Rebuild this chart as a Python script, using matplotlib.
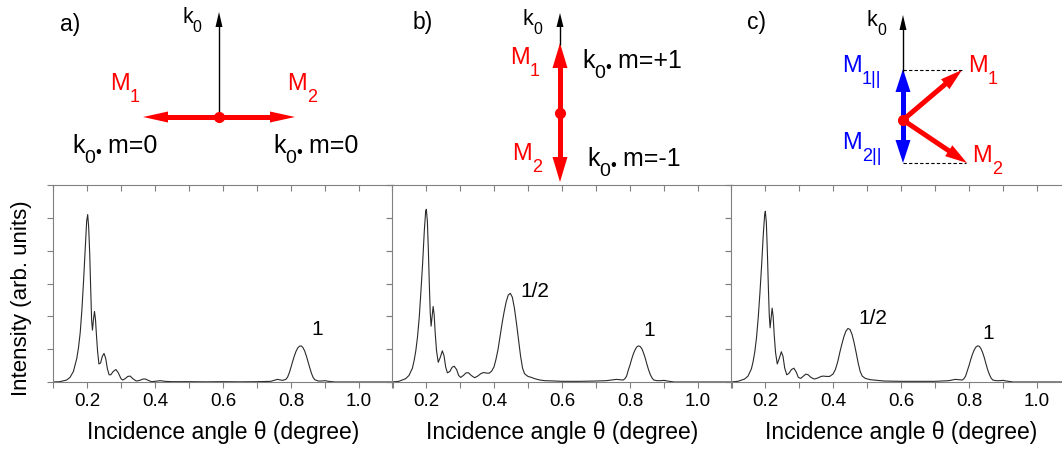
import numpy as np
import matplotlib
matplotlib.use("Agg")
import matplotlib.pyplot as plt
from matplotlib.ticker import MultipleLocator, NullFormatter

plt.rcParams['font.family'] = ['Liberation Sans', 'DejaVu Sans']

W, H = 1062, 454

# reflectivity curves, incidence angle (degree) vs intensity (arb. units)
theta_a = [0.10, 0.12, 0.14, 0.15, 0.16, 0.17, 0.175, 0.18, 0.185, 0.19, 0.195, 0.199, 0.202,
           0.205, 0.208, 0.211, 0.2135, 0.216, 0.219, 0.222, 0.225, 0.228, 0.231, 0.235, 0.240,
           0.245, 0.250, 0.255, 0.260, 0.265, 0.270, 0.277, 0.285, 0.292, 0.300, 0.305, 0.312,
           0.320, 0.327, 0.335, 0.345, 0.355, 0.365, 0.372, 0.380, 0.390, 0.40, 0.415, 0.43,
           0.45, 0.50, 0.55, 0.60, 0.65, 0.70, 0.74, 0.76, 0.775, 0.785, 0.79, 0.795, 0.80,
           0.805, 0.81, 0.815, 0.82, 0.825, 0.83, 0.835, 0.84, 0.845, 0.85, 0.855, 0.86, 0.865,
           0.87, 0.88, 0.89, 0.90, 0.91, 0.93, 1.10]
inten_a = [0.00, 0.01, 0.06, 0.14, 0.32, 0.72, 1.05, 1.50, 2.20, 3.10, 4.10, 4.90, 5.10,
           4.70, 3.90, 2.80, 1.90, 1.58, 1.90, 2.15, 1.90, 1.40, 0.95, 0.55, 0.58,
           0.78, 0.87, 0.72, 0.40, 0.22, 0.22, 0.32, 0.38, 0.28, 0.10, 0.06, 0.10,
           0.17, 0.18, 0.10, 0.03, 0.05, 0.09, 0.09, 0.05, 0.01, 0.02, 0.04, 0.02,
           0.01, 0.01, 0.005, 0.01, 0.005, 0.01, 0.02, 0.08, 0.05, 0.08, 0.15, 0.28, 0.45,
           0.63, 0.80, 0.94, 1.04, 1.09, 1.10, 1.05, 0.95, 0.80, 0.62, 0.44, 0.27, 0.14,
           0.07, 0.03, 0.03, 0.04, 0.02, 0.00, 0.00]

theta_b = [0.10, 0.12, 0.14, 0.15, 0.16, 0.165, 0.17, 0.175, 0.18, 0.185, 0.19, 0.195, 0.199,
           0.201, 0.204, 0.207, 0.210, 0.2125, 0.215, 0.218, 0.221, 0.224, 0.227, 0.231, 0.236,
           0.242, 0.248, 0.253, 0.258, 0.263, 0.270, 0.277, 0.283, 0.290, 0.296, 0.302, 0.310,
           0.318, 0.325, 0.333, 0.343, 0.352, 0.362, 0.370, 0.378, 0.386, 0.393, 0.400, 0.406,
           0.412, 0.418, 0.424, 0.430, 0.436, 0.442, 0.448, 0.454, 0.460, 0.466, 0.472, 0.478,
           0.484, 0.490, 0.500, 0.510, 0.520, 0.535, 0.55, 0.58, 0.60, 0.65, 0.70, 0.73, 0.76,
           0.78, 0.785, 0.79, 0.795, 0.80, 0.805, 0.81, 0.815, 0.82, 0.825, 0.83, 0.835, 0.84,
           0.845, 0.85, 0.855, 0.86, 0.865, 0.87, 0.88, 0.89, 0.90, 0.91, 0.93, 1.10]
inten_b = [0.00, 0.02, 0.10, 0.20, 0.42, 0.65, 0.95, 1.37, 1.95, 2.75, 3.60, 4.60, 5.20,
           5.26, 4.90, 4.00, 2.90, 2.10, 1.70, 2.00, 2.30, 2.05, 1.50, 0.95, 0.60,
           0.75, 0.95, 0.80, 0.45, 0.28, 0.32, 0.45, 0.48, 0.38, 0.20, 0.14, 0.20,
           0.28, 0.28, 0.20, 0.13, 0.18, 0.26, 0.29, 0.27, 0.27, 0.33, 0.46, 0.70,
           1.00, 1.40, 1.80, 2.15, 2.45, 2.65, 2.70, 2.58, 2.25, 1.80, 1.30, 0.80,
           0.42, 0.25, 0.17, 0.14, 0.10, 0.06, 0.04, 0.03, 0.02, 0.02, 0.03, 0.04, 0.08,
           0.06, 0.10, 0.18, 0.36, 0.52, 0.70, 0.86, 0.98, 1.07, 1.10, 1.08, 1.01, 0.88,
           0.72, 0.53, 0.36, 0.22, 0.12, 0.06, 0.04, 0.04, 0.05, 0.03, 0.00, 0.00]

theta_c = [0.10, 0.12, 0.14, 0.15, 0.16, 0.165, 0.17, 0.175, 0.18, 0.185, 0.19, 0.195, 0.199,
           0.201, 0.204, 0.207, 0.210, 0.2125, 0.215, 0.218, 0.221, 0.224, 0.227, 0.231, 0.236,
           0.242, 0.248, 0.253, 0.258, 0.264, 0.270, 0.278, 0.285, 0.292, 0.298, 0.305, 0.313,
           0.320, 0.327, 0.335, 0.345, 0.355, 0.365, 0.372, 0.380, 0.390, 0.400, 0.407, 0.414,
           0.420, 0.426, 0.432, 0.438, 0.444, 0.450, 0.456, 0.462, 0.468, 0.474, 0.480, 0.486,
           0.495, 0.51, 0.53, 0.55, 0.60, 0.65, 0.70, 0.74, 0.76, 0.78, 0.785, 0.79, 0.795,
           0.80, 0.805, 0.81, 0.815, 0.82, 0.825, 0.83, 0.835, 0.84, 0.845, 0.85, 0.855, 0.86,
           0.865, 0.87, 0.88, 0.89, 0.90, 0.91, 0.93, 1.10]
inten_c = [0.00, 0.02, 0.09, 0.18, 0.40, 0.62, 0.92, 1.35, 1.95, 2.70, 3.55, 4.50, 5.10,
           5.20, 4.85, 3.95, 2.85, 2.05, 1.65, 1.95, 2.25, 2.00, 1.45, 0.90, 0.55,
           0.72, 0.92, 0.78, 0.42, 0.22, 0.26, 0.38, 0.42, 0.30, 0.14, 0.11, 0.18,
           0.24, 0.22, 0.14, 0.09, 0.12, 0.17, 0.18, 0.17, 0.17, 0.24, 0.38, 0.62,
           0.90, 1.15, 1.38, 1.55, 1.63, 1.60, 1.45, 1.20, 0.90, 0.58, 0.32, 0.18,
           0.11, 0.07, 0.05, 0.03, 0.02, 0.02, 0.02, 0.04, 0.08, 0.06, 0.10, 0.18, 0.34,
           0.50, 0.68, 0.84, 0.97, 1.06, 1.10, 1.09, 1.02, 0.90, 0.74, 0.55, 0.37, 0.23,
           0.12, 0.06, 0.04, 0.04, 0.05, 0.03, 0.00, 0.00]

# peak order labels: (text, theta, intensity)
peaks_a = [("1", 0.876, 1.6)]
peaks_b = [("1/2", 0.519, 2.76), ("1", 0.857, 1.56)]
peaks_c = [("1/2", 0.517, 1.93), ("1", 0.856, 1.47)]

xticks_major = [0.2, 0.4, 0.6, 0.8, 1.0]

fig = plt.figure(figsize=(W / 100, H / 100), dpi=100)

spine_col = '#808080'
panels = [(53, theta_a, inten_a, peaks_a),
          (392, theta_b, inten_b, peaks_b),
          (731, theta_c, inten_c, peaks_c)]
for left, th, it, peaks in panels:
    ax = fig.add_axes([left / W, (H - 382) / H, 340 / W, 197 / H])
    ax.plot(th, it, color='#2a2a2a', lw=0.8)
    ax.set_xlim(0.1, 1.1)
    ax.set_ylim(0, 6)
    ax.xaxis.set_major_locator(plt.FixedLocator(xticks_major))
    ax.xaxis.set_minor_locator(MultipleLocator(0.2, offset=0.1))
    ax.xaxis.set_major_formatter(plt.FuncFormatter(lambda v, p: f"{v:.1f}"))
    ax.yaxis.set_major_locator(MultipleLocator(1))
    ax.yaxis.set_major_formatter(NullFormatter())
    for s in ax.spines.values():
        s.set_color(spine_col)
        s.set_linewidth(0.8)
    ax.tick_params(which='both', direction='out', length=4, width=0.8, color=spine_col,
                   labelsize=13.5, pad=4)
    ax.tick_params(which='both', top=True, right=True)
    for t in ax.xaxis.get_major_ticks() + ax.xaxis.get_minor_ticks():
        t.tick2line.set_marker(3)  # top ticks point down into the frame
    for t in ax.yaxis.get_major_ticks():
        t.tick2line.set_marker(0)  # right ticks point left into the frame
    ax.set_xlabel("Incidence angle θ (degree)", fontsize=16.5, labelpad=8)
    for txt, x, y in peaks:
        ax.text(x, y, txt, fontsize=15, ha='center', va='center')

fig.text(22 / W, (H - 298) / H, "Intensity (arb. units)", rotation=90,
         ha='center', va='center', fontsize=16)

# vector sketches above the panels, drawn in pixel coordinates
ov = fig.add_axes([0, 0, 1, 1], zorder=5)
ov.set_xlim(0, W)
ov.set_ylim(H, 0)
ov.axis('off')
ov.patch.set_alpha(0)
renderer = fig.canvas.get_renderer()


def arrow(x0, y0, x1, y1, color, lw, hl, hw):
    d = np.hypot(x1 - x0, y1 - y0)
    ux, uy = (x1 - x0) / d, (y1 - y0) / d
    bx, by = x1 - ux * hl, y1 - uy * hl
    ov.plot([x0, bx + ux * 2], [y0, by + uy * 2], color=color, lw=lw, solid_capstyle='butt')
    px, py = -uy, ux
    ov.fill([x1, bx + px * hw / 2, bx - px * hw / 2], [y1, by + py * hw / 2, by - py * hw / 2],
            color=color, lw=0)


def label(x, y, pieces, color='black'):
    # pieces: (text, fontsize, drop in px below baseline), laid out left to right
    for txt, size, drop in pieces:
        t = ov.text(x, y + drop, txt, fontsize=size, color=color, va='baseline', ha='left')
        x += t.get_window_extent(renderer).width


def mlabel(x, y, sub, color):
    label(x, y, [("M", 17, 0), (sub, 13, 12)], color)


def klabel(x, y, m):
    label(x, y, [("k", 18, 0), ("0", 14, 10), ("\u2022", 12, 4), (" m=" + m, 18, 0)])


def k0(x, y):
    label(x, y, [("k", 15.5, 0), ("0", 11.5, 9)])


red, blue = '#ff0000', '#0000ff'

# a) moments in plane, perpendicular to k0
arrow(219, 117, 219, 12, 'black', 1.0, 15, 7)
arrow(219, 117, 143, 117, red, 3.6, 25, 11)
arrow(219, 117, 295, 117, red, 3.6, 25, 11)
ov.plot(219, 117, 'o', color=red, ms=7)
ov.text(60, 24, "a)", fontsize=16.5, va='center')
k0(182, 23)
mlabel(110, 90, "1", red)
mlabel(287, 90, "2", red)
klabel(72, 153, "0")
klabel(273, 153, "0")

# b) moments along k0
arrow(560, 45, 560, 13, 'black', 1.0, 14, 7)
arrow(560, 113, 560, 43, red, 3.6, 25, 15)
arrow(560, 113, 560, 182, red, 3.6, 25, 15)
ov.plot(560, 113, 'o', color=red, ms=7)
ov.text(413, 23, "b)", fontsize=16.5, va='center')
k0(523, 25)
mlabel(510, 64, "1", red)
mlabel(512, 160, "2", red)
klabel(582, 68, "+1")
klabel(587, 166, "-1")

# c) canted moments and their projections on k0
arrow(903, 72, 903, 15, 'black', 1.0, 15, 7)
ov.plot([903, 962], [70, 70], color='black', lw=0.8, ls=(0, (3, 2)))
ov.plot([903, 966], [163, 163], color='black', lw=0.8, ls=(0, (3, 2)))
arrow(903, 120, 903, 69, blue, 3.6, 23, 15)
arrow(903, 120, 903, 163, blue, 3.6, 23, 15)
arrow(903, 120, 962, 70, red, 3.6, 22, 13)
arrow(903, 120, 967, 163, red, 3.6, 22, 13)
ov.plot(903, 120, 'o', color=red, ms=7)
ov.text(747, 23, "c)", fontsize=16.5, va='center')
k0(867, 26)
mlabel(842, 72, "1||", blue)
mlabel(842, 149, "2||", blue)
mlabel(968, 72, "1", red)
mlabel(972, 162, "2", red)

fig.savefig("out.png", dpi=100)
